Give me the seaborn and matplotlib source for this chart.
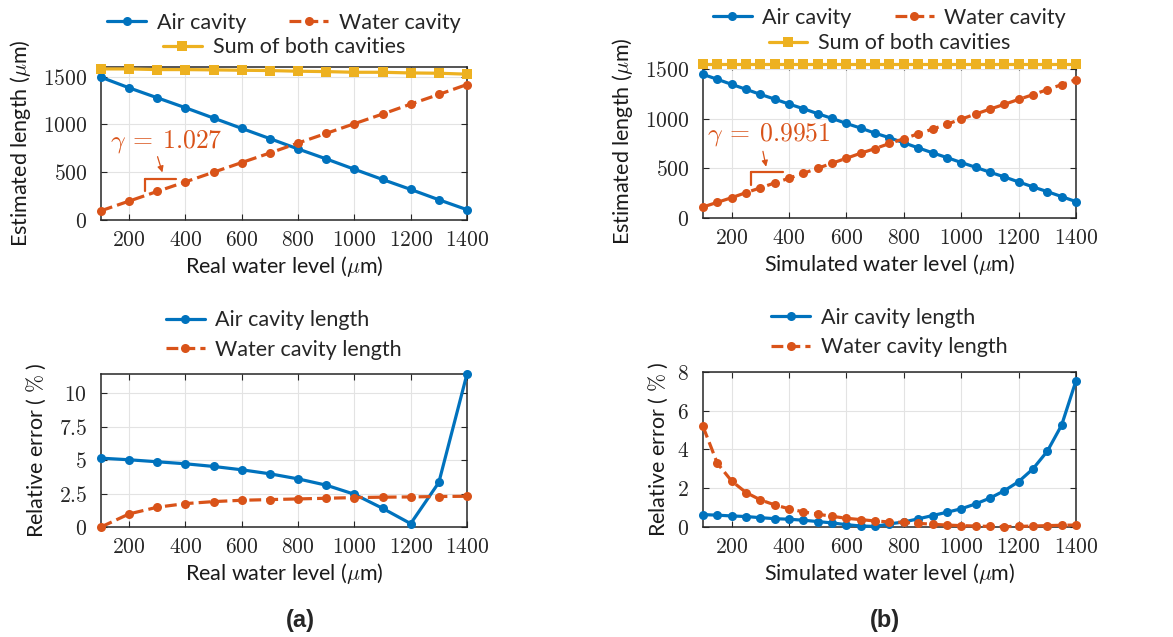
import numpy as np
import matplotlib
matplotlib.use('Agg')
import matplotlib.pyplot as plt
import seaborn as sns
from matplotlib.ticker import FuncFormatter

# ---- data ----
x_real = [100, 200, 300, 400, 500, 600, 700, 800, 900, 1000, 1100, 1200, 1300, 1400]
air_real = [1493, 1382, 1278, 1174, 1066, 958, 851, 743, 639, 531, 424, 320, 212, 108]
water_real = [97, 198, 299, 399, 500, 601, 701, 805, 906, 1007, 1108, 1212, 1313, 1417]
sum_real = [1580, 1580, 1573, 1573, 1570, 1566, 1563, 1556, 1552, 1545, 1545, 1538, 1535, 1525]

x_sim = [100, 150, 200, 250, 300, 350, 400, 450, 500, 550, 600, 650, 700, 750,
         800, 850, 900, 950, 1000, 1050, 1100, 1150, 1200, 1250, 1300, 1350, 1400]
air_sim = [1450, 1400, 1349, 1299, 1248, 1200, 1150, 1103, 1053, 1005, 954, 907, 856, 810,
           759, 708, 658, 610, 560, 512, 462, 415, 364, 314, 266, 216, 165]
water_sim = [111, 158, 205, 256, 304, 354, 401, 451, 502, 553, 603, 654, 701, 752,
             800, 850, 897, 947, 998, 1049, 1099, 1147, 1197, 1245, 1296, 1346, 1397]
sum_sim = [1555] * 27

err_air_real = [5.15, 5.03, 4.88, 4.73, 4.53, 4.28, 3.98, 3.6, 3.13, 2.45, 1.4, 0.25, 3.33, 11.45]
err_water_real = [0.0, 0.98, 1.48, 1.75, 1.9, 2.0, 2.05, 2.1, 2.15, 2.2, 2.23, 2.25, 2.28, 2.3]

err_air_sim = [0.64, 0.61, 0.57, 0.54, 0.48, 0.43, 0.40, 0.35, 0.28, 0.21, 0.12, 0.05, 0.03, 0.16,
               0.26, 0.42, 0.59, 0.76, 0.94, 1.19, 1.49, 1.87, 2.34, 3.0, 3.91, 5.26, 7.55]
err_water_sim = [5.19, 3.29, 2.37, 1.78, 1.40, 1.14, 0.94, 0.78, 0.66, 0.55, 0.45, 0.38, 0.31, 0.26,
                 0.24, 0.19, 0.14, 0.10, 0.07, 0.05, 0.03, 0.02, 0.03, 0.05, 0.07, 0.09, 0.10]

BLUE = '#0072BD'
ORANGE = '#D95319'
YELLOW = '#EDB120'

sns.set_style('ticks')
plt.rcParams['font.family'] = ['Lato', 'DejaVu Sans']
plt.rcParams['mathtext.fontset'] = 'cm'

LABEL_FS = 15.5
TICK_FS = 15.5

fig = plt.figure(figsize=(11.73, 6.37), dpi=100)

ax_tl = fig.add_axes([0.0861, 0.6546, 0.312, 0.2402])
ax_tr = fig.add_axes([0.5993, 0.6578, 0.318, 0.2418])
ax_bl = fig.add_axes([0.0861, 0.1727, 0.312, 0.2402])
ax_br = fig.add_axes([0.5993, 0.1727, 0.318, 0.2433])


def style_axes(ax, ylim, yticks, xlabel, ylabel, ylab_x):
    ax.set_xlim(100, 1400)
    ax.set_ylim(*ylim)
    ax.set_xticks([200, 400, 600, 800, 1000, 1200, 1400])
    ax.set_yticks(yticks)
    fmt = FuncFormatter(lambda v, p: '$%g$' % v)
    ax.xaxis.set_major_formatter(fmt)
    ax.yaxis.set_major_formatter(fmt)
    ax.tick_params(direction='in', top=True, right=True, length=4, width=0.8,
                   labelsize=TICK_FS, colors='#262626')
    ax.tick_params(axis='y', pad=10)
    ax.tick_params(axis='x', pad=7)
    ax.grid(True, color='#e3e3e3', linewidth=0.8)
    ax.set_axisbelow(True)
    for s in ax.spines.values():
        s.set_color('#262626')
        s.set_linewidth(1.1)
    ax.set_xlabel(xlabel, fontsize=LABEL_FS, color='#1a1a1a', labelpad=3)
    ax.set_ylabel(ylabel, fontsize=LABEL_FS, color='#1a1a1a')
    ax.yaxis.set_label_coords(ylab_x, 0.5)


def plot_series(ax, x, y, color, ls, marker, label, ms=6.5):
    sns.lineplot(x=x, y=y, ax=ax, color=color, linestyle=ls, marker=marker,
                 markersize=ms, markeredgewidth=0, linewidth=2.3, label=label,
                 legend=False, clip_on=False, zorder=3)


# ---- top left ----
plot_series(ax_tl, x_real, air_real, BLUE, '-', 'o', 'Air cavity')
plot_series(ax_tl, x_real, water_real, ORANGE, '--', 'o', 'Water cavity')
plot_series(ax_tl, x_real, sum_real, YELLOW, '-', 's', 'Sum of both cavities', ms=7.5)
style_axes(ax_tl, (0, 1600), [0, 500, 1000, 1500], 'Real water level ($\\mu$m)',
           'Estimated length ($\\mu$m)', -0.186)

# ---- top right ----
plot_series(ax_tr, x_sim, air_sim, BLUE, '-', 'o', 'Air cavity')
plot_series(ax_tr, x_sim, water_sim, ORANGE, '--', 'o', 'Water cavity')
plot_series(ax_tr, x_sim, sum_sim, YELLOW, '-', 's', 'Sum of both cavities', ms=7.5)
style_axes(ax_tr, (0, 1555), [0, 500, 1000, 1500], 'Simulated water level ($\\mu$m)',
           'Estimated length ($\\mu$m)', -0.182)

# ---- bottom left ----
plot_series(ax_bl, x_real, err_air_real, BLUE, '-', 'o', 'Air cavity length')
plot_series(ax_bl, x_real, err_water_real, ORANGE, '--', 'o', 'Water cavity length')
style_axes(ax_bl, (0, 11.45), [0, 2.5, 5, 7.5, 10], 'Real water level ($\\mu$m)',
           'Relative error ( $\\%$ )', -0.145)

# ---- bottom right ----
plot_series(ax_br, x_sim, err_air_sim, BLUE, '-', 'o', 'Air cavity length')
plot_series(ax_br, x_sim, err_water_sim, ORANGE, '--', 'o', 'Water cavity length')
style_axes(ax_br, (0, 8), [0, 2, 4, 6, 8], 'Simulated water level ($\\mu$m)',
           'Relative error ( $\\%$ )', -0.088)

leg_kw = dict(frameon=False, fontsize=LABEL_FS, handlelength=1.8, handletextpad=0.5,
              borderpad=0.0, borderaxespad=0.0)

for ax, y1, y2 in [(ax_tl, 1.288, 1.13), (ax_tr, 1.30, 1.135)]:
    h = ax.get_lines()[:3]
    lg1 = ax.legend(h[:2], [l.get_label() for l in h[:2]], ncol=2, columnspacing=2.0,
                    loc='center', bbox_to_anchor=(0.5, y1), **leg_kw)
    ax.add_artist(lg1)
    ax.legend([h[2]], [h[2].get_label()], loc='center', bbox_to_anchor=(0.5, y2), **leg_kw)

for ax in (ax_bl, ax_br):
    h = ax.get_lines()[:2]
    ax.legend(h, [l.get_label() for l in h], ncol=1, labelspacing=0.45,
              loc='center', bbox_to_anchor=(0.5, 1.255), **leg_kw)

# ---- slope annotations ----
ax_tl.text(132, 816, '$\\gamma\\:=\\:1.027$', color=ORANGE, fontsize=18.5, va='center', ha='left')
ax_tl.annotate('', xy=(321, 470), xytext=(298, 690),
               arrowprops=dict(arrowstyle='-|>', color=ORANGE, lw=0.9, mutation_scale=9))
ax_tl.plot([256, 365], [427, 427], color=ORANGE, lw=1.6)
ax_tl.plot([256, 256], [427, 302], color=ORANGE, lw=1.6)

ax_tr.text(113, 843, '$\\gamma\\:=\\:0.9951$', color=ORANGE, fontsize=18.5, va='center', ha='left')
ax_tr.annotate('', xy=(322, 490), xytext=(307, 700),
               arrowprops=dict(arrowstyle='-|>', color=ORANGE, lw=0.9, mutation_scale=9))
ax_tr.plot([267, 378], [466, 466], color=ORANGE, lw=1.6)
ax_tr.plot([267, 267], [466, 337], color=ORANGE, lw=1.6)

# panel labels
fig.text(300 / 1173, 1 - 620 / 637, '(a)', fontsize=17, fontweight='bold',
         family='Liberation Sans', ha='center', va='center')
fig.text(885 / 1173, 1 - 620 / 637, '(b)', fontsize=17, fontweight='bold',
         family='Liberation Sans', ha='center', va='center')

fig.savefig('out.png', dpi=100)
